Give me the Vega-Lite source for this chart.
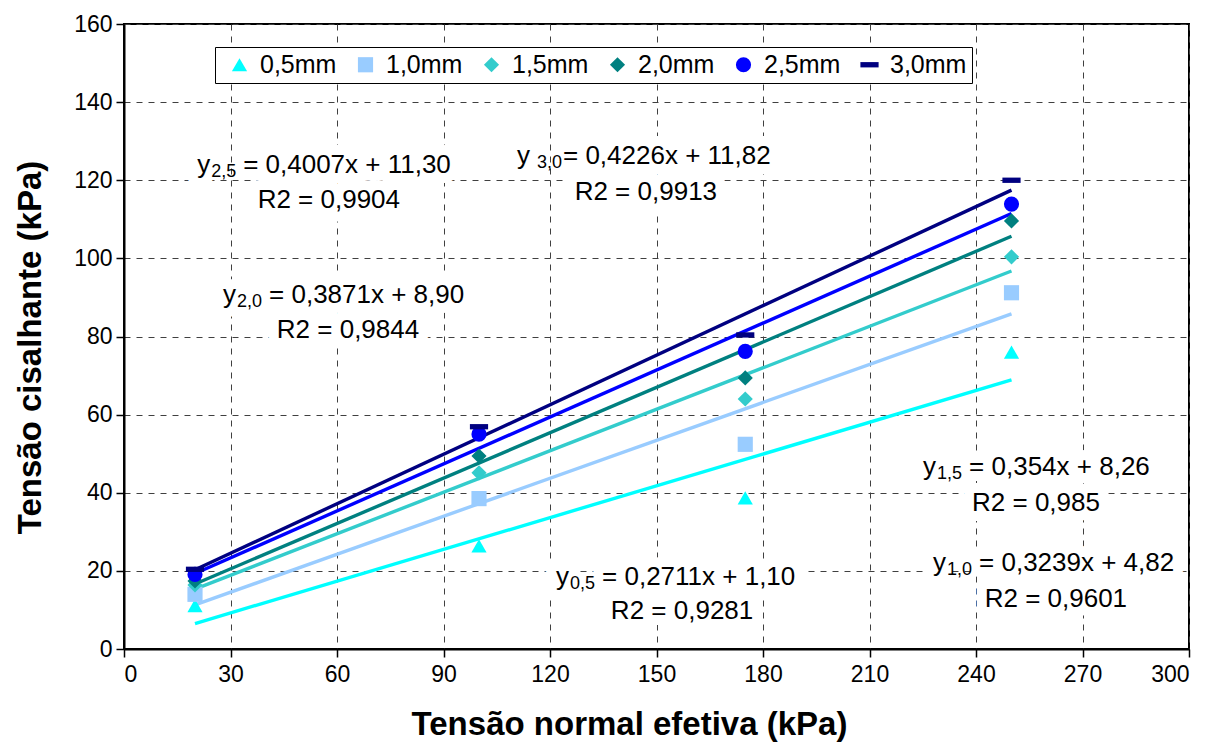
{
  "$schema": "https://vega.github.io/schema/vega-lite/v6.json",
  "width": 1065,
  "height": 625,
  "autosize": {"type": "none"},
  "padding": {"left": 124, "top": 24, "right": 35, "bottom": 107},
  "background": "white",
  "config": {
    "font": "Liberation Sans",
    "view": {"stroke": "black", "strokeWidth": 2},
    "axis": {
      "domainColor": "black",
      "domainWidth": 2,
      "tickColor": "black",
      "tickWidth": 1.5,
      "tickSize": 8,
      "labelFontSize": 23,
      "labelColor": "black",
      "labelFont": "Liberation Sans",
      "titleFont": "Liberation Sans",
      "titleFontSize": 33,
      "titleFontWeight": "bold",
      "titleColor": "black",
      "grid": true,
      "gridColor": "#404040",
      "gridDash": [6, 6],
      "gridWidth": 1
    },
    "legend": {
      "direction": "horizontal",
      "columns": 6,
      "strokeColor": "black",
      "fillColor": "white",
      "padding": 5,
      "labelFontSize": 25,
      "labelColor": "black",
      "labelOffset": 8,
      "columnPadding": 9,
      "symbolOffset": 7,
      "symbolSize": 230,
      "symbolStrokeWidth": 0
    }
  },
  "datasets": {
    "points": [
      {"d": "0,5mm", "x": 20, "y": 11.1},
      {"d": "0,5mm", "x": 100, "y": 26.4},
      {"d": "0,5mm", "x": 175, "y": 38.7},
      {"d": "0,5mm", "x": 250, "y": 76.0},
      {"d": "1,0mm", "x": 20, "y": 14.0},
      {"d": "1,0mm", "x": 100, "y": 38.5},
      {"d": "1,0mm", "x": 175, "y": 52.4},
      {"d": "1,0mm", "x": 250, "y": 91.2},
      {"d": "1,5mm", "x": 20, "y": 16.4},
      {"d": "1,5mm", "x": 100, "y": 45.1},
      {"d": "1,5mm", "x": 175, "y": 64.0},
      {"d": "1,5mm", "x": 250, "y": 100.4},
      {"d": "2,0mm", "x": 20, "y": 17.4},
      {"d": "2,0mm", "x": 100, "y": 49.4},
      {"d": "2,0mm", "x": 175, "y": 69.4},
      {"d": "2,0mm", "x": 250, "y": 109.6},
      {"d": "2,5mm", "x": 20, "y": 19.1},
      {"d": "2,5mm", "x": 100, "y": 55.0},
      {"d": "2,5mm", "x": 175, "y": 76.2},
      {"d": "2,5mm", "x": 250, "y": 113.9},
      {"d": "3,0mm", "x": 20, "y": 20.4},
      {"d": "3,0mm", "x": 100, "y": 56.9},
      {"d": "3,0mm", "x": 175, "y": 80.4},
      {"d": "3,0mm", "x": 250, "y": 120.0}
    ],
    "trends": [
      {"d": "0,5mm", "x": 20, "y": 6.522},
      {"d": "0,5mm", "x": 250, "y": 68.875},
      {"d": "1,0mm", "x": 20, "y": 11.298},
      {"d": "1,0mm", "x": 250, "y": 85.795},
      {"d": "1,5mm", "x": 20, "y": 15.34},
      {"d": "1,5mm", "x": 250, "y": 96.76},
      {"d": "2,0mm", "x": 20, "y": 16.642},
      {"d": "2,0mm", "x": 250, "y": 105.675},
      {"d": "2,5mm", "x": 20, "y": 19.314},
      {"d": "2,5mm", "x": 250, "y": 111.475},
      {"d": "3,0mm", "x": 20, "y": 20.272},
      {"d": "3,0mm", "x": 250, "y": 117.47}
    ],
    "notes": [
      {"sub": "2,5", "eq": "= 0,4007x + 11,30", "r2": "R2 = 0,9904", "x": 20.6, "y": 123.9, "rx": 57.7, "ry": 115.0},
      {"sub": "3,0", "eq": "= 0,4226x + 11,82", "r2": "R2 = 0,9913", "x": 110.7, "y": 126.2, "rx": 147.0, "ry": 117.0},
      {"sub": "2,0", "eq": "= 0,3871x + 8,90", "r2": "R2 = 0,9844", "x": 27.9, "y": 90.6, "rx": 63.1, "ry": 81.7},
      {"sub": "1,5", "eq": "= 0,354x + 8,26", "r2": "R2 = 0,985", "x": 225.1, "y": 46.6, "rx": 256.9, "ry": 37.4},
      {"sub": "1,0", "eq": "= 0,3239x + 4,82", "r2": "R2 = 0,9601", "x": 227.9, "y": 22.0, "rx": 262.5, "ry": 12.8},
      {"sub": "0,5", "eq": "= 0,2711x + 1,10", "r2": "R2 = 0,9281", "x": 121.7, "y": 18.4, "rx": 157.2, "ry": 9.7}
    ]
  },
  "encoding": {
    "x": {
      "field": "x",
      "type": "quantitative",
      "scale": {"domain": [0, 300], "nice": false},
      "axis": {"values": [0, 30, 60, 90, 120, 150, 180, 210, 240, 270, 300], "title": "Tensão normal efetiva (kPa)", "labelPadding": 6, "titlePadding": 22, "titleX": 505}
    },
    "y": {
      "field": "y",
      "type": "quantitative",
      "scale": {"domain": [0, 160], "nice": false},
      "axis": {"values": [0, 20, 40, 60, 80, 100, 120, 140, 160], "title": "Tensão cisalhante (kPa)", "labelPadding": 4, "titlePadding": 26, "titleY": 323}
    }
  },
  "layer": [
    {
      "data": {"name": "notes"},
      "mark": {"type": "text", "align": "left", "baseline": "middle", "fontSize": 26, "color": "white", "stroke": "white", "strokeWidth": 20, "strokeJoin": "round"},
      "encoding": {"text": {"value": "y"}}
    },
    {
      "data": {"name": "notes"},
      "mark": {"type": "text", "align": "left", "baseline": "middle", "fontSize": 26, "dx": 46, "color": "white", "stroke": "white", "strokeWidth": 20, "strokeJoin": "round"},
      "encoding": {"text": {"field": "eq"}}
    },
    {
      "data": {"name": "notes"},
      "mark": {"type": "text", "align": "center", "baseline": "middle", "fontSize": 26, "color": "white", "stroke": "white", "strokeWidth": 20, "strokeJoin": "round"},
      "encoding": {
        "x": {"field": "rx", "type": "quantitative"},
        "y": {"field": "ry", "type": "quantitative"},
        "text": {"field": "r2"}
      }
    },
    {
      "data": {"name": "trends"},
      "mark": {"type": "line", "strokeWidth": 3.4},
      "encoding": {
        "color": {
          "field": "d",
          "type": "nominal",
          "title": null,
          "scale": {"domain": ["0,5mm", "1,0mm", "1,5mm", "2,0mm", "2,5mm", "3,0mm"], "range": ["#00FFFF", "#99CCFF", "#33CCCC", "#008080", "#0000FF", "#000080"]}
        }
      }
    },
    {
      "data": {"name": "points"},
      "mark": {"type": "point", "filled": true, "opacity": 1, "size": 230},
      "encoding": {
        "color": {
          "field": "d",
          "type": "nominal",
          "title": null,
          "scale": {"domain": ["0,5mm", "1,0mm", "1,5mm", "2,0mm", "2,5mm", "3,0mm"], "range": ["#00FFFF", "#99CCFF", "#33CCCC", "#008080", "#0000FF", "#000080"]},
          "legend": {"orient": "none", "legendX": 91, "legendY": 23}
        },
        "shape": {
          "field": "d",
          "type": "nominal",
          "title": null,
          "scale": {"domain": ["0,5mm", "1,0mm", "1,5mm", "2,0mm", "2,5mm", "3,0mm"], "range": ["triangle-up", "square", "diamond", "diamond", "circle", "M-1.2,-0.35H1.2V0.35H-1.2Z"]},
          "legend": {"orient": "none", "legendX": 91, "legendY": 23}
        }
      }
    },
    {
      "data": {"name": "notes"},
      "mark": {"type": "text", "align": "left", "baseline": "middle", "fontSize": 26, "color": "black"},
      "encoding": {"text": {"value": "y"}}
    },
    {
      "data": {"name": "notes"},
      "transform": [{"filter": "datum.sub !== '3,0'"}],
      "mark": {"type": "text", "align": "left", "baseline": "middle", "fontSize": 18, "dx": 14, "dy": 7, "color": "black"},
      "encoding": {"text": {"field": "sub"}}
    },
    {
      "data": {"name": "notes"},
      "transform": [{"filter": "datum.sub === '3,0'"}],
      "mark": {"type": "text", "align": "left", "baseline": "middle", "fontSize": 18, "dx": 20, "dy": 7, "color": "black"},
      "encoding": {"text": {"field": "sub"}}
    },
    {
      "data": {"name": "notes"},
      "mark": {"type": "text", "align": "left", "baseline": "middle", "fontSize": 26, "dx": 46, "color": "black"},
      "encoding": {"text": {"field": "eq"}}
    },
    {
      "data": {"name": "notes"},
      "mark": {"type": "text", "align": "center", "baseline": "middle", "fontSize": 26, "color": "black"},
      "encoding": {
        "x": {"field": "rx", "type": "quantitative"},
        "y": {"field": "ry", "type": "quantitative"},
        "text": {"field": "r2"}
      }
    }
  ]
}
